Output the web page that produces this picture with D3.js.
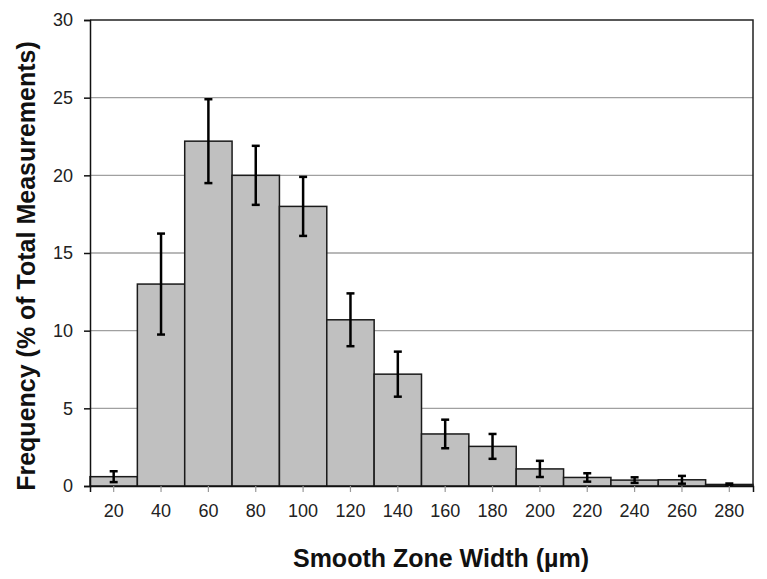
<!DOCTYPE html>
<html><head><meta charset="utf-8">
<script src="https://cdn.jsdelivr.net/npm/d3@7"></script>
<style>body{margin:0;background:#fff}</style>
</head><body>
<svg id="c" width="767" height="579"></svg>
<script>
const categories = ["20","40","60","80","100","120","140","160","180","200","220","240","260","280"];
const values = [0.6, 13.0, 22.2, 20.0, 18.0, 10.7, 7.2, 3.35, 2.55, 1.1, 0.55, 0.38, 0.4, 0.1];
const errors = [0.35, 3.25, 2.7, 1.9, 1.9, 1.7, 1.45, 0.92, 0.8, 0.52, 0.27, 0.18, 0.25, 0.06];
const yTicks = [0, 5, 10, 15, 20, 25, 30];

const svg = d3.select("#c");
const m = {l: 90, r: 14, t: 20, b: 93};
const W = 767, H = 579;
const x = d3.scaleBand().domain(categories).range([m.l, W - m.r]).padding(0);
const y = d3.scaleLinear().domain([0, 30]).range([H - m.b, m.t]);
const font = "Liberation Sans, Arial, sans-serif";

// gridlines
svg.append("g").selectAll("line").data(yTicks.filter(d => d > 0 && d < 30)).join("line")
  .attr("x1", m.l).attr("x2", W - m.r)
  .attr("y1", d => y(d)).attr("y2", d => y(d))
  .attr("stroke", "#a0a0a0").attr("stroke-width", 1.3);

// bars
svg.append("g").selectAll("rect").data(values).join("rect")
  .attr("x", (d, i) => x(categories[i]))
  .attr("width", x.bandwidth())
  .attr("y", d => y(d))
  .attr("height", d => y(0) - y(d))
  .attr("fill", "#c0c0c0").attr("stroke", "#1a1a1a").attr("stroke-width", 1.5);

// error bars
const eg = svg.append("g").attr("stroke", "#000").attr("stroke-width", 2.5);
values.forEach((v, i) => {
  const cx = x(categories[i]) + x.bandwidth() / 2;
  const lo = v - errors[i], hi = v + errors[i];
  eg.append("line").attr("x1", cx).attr("x2", cx).attr("y1", y(lo)).attr("y2", y(hi));
  eg.append("line").attr("x1", cx - 4).attr("x2", cx + 4).attr("y1", y(lo)).attr("y2", y(lo));
  eg.append("line").attr("x1", cx - 4).attr("x2", cx + 4).attr("y1", y(hi)).attr("y2", y(hi));
});

// frame top/right
svg.append("path")
  .attr("d", `M${m.l},${m.t}H${W - m.r}V${H - m.b}`)
  .attr("fill", "none").attr("stroke", "#222").attr("stroke-width", 1.5);

// y axis
const ya = svg.append("g").attr("transform", `translate(${m.l},0)`)
  .call(d3.axisLeft(y).tickValues(yTicks).tickSize(6).tickPadding(11));
ya.select(".domain").attr("stroke", "#111").attr("stroke-width", 1.5);
ya.selectAll(".tick line").attr("stroke", "#111").attr("stroke-width", 1.5);
ya.selectAll("text").attr("font-family", font).attr("font-size", 18).attr("fill", "#222");

// x axis
const xa = svg.append("g").attr("transform", `translate(0,${y(0)})`)
  .call(d3.axisBottom(x).tickSize(6).tickPadding(12));
xa.select(".domain").attr("stroke", "#111").attr("stroke-width", 1.5);
xa.selectAll(".tick line").attr("stroke", "#999").attr("stroke-width", 1.2);
xa.selectAll("text").attr("font-family", font).attr("font-size", 18).attr("fill", "#222");

// titles
svg.append("text").attr("x", 441).attr("y", 567)
  .attr("text-anchor", "middle").attr("font-family", font).attr("font-weight", "bold")
  .attr("font-size", 25).attr("fill", "#111").text("Smooth Zone Width (µm)");
svg.append("text").attr("transform", `translate(35,266) rotate(-90)`)
  .attr("text-anchor", "middle").attr("font-family", font).attr("font-weight", "bold")
  .attr("font-size", 25).attr("fill", "#111").text("Frequency (% of Total Measurements)");
</script>
</body></html>
